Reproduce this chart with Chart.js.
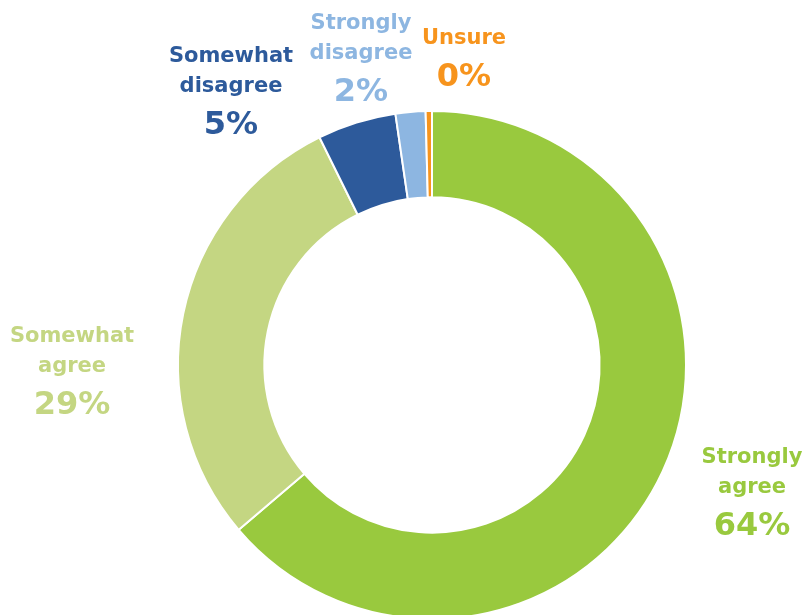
<!DOCTYPE html>
<html>
<head>
<meta charset="utf-8">
<script src="https://cdn.jsdelivr.net/npm/chart.js@4"></script>
<style>
  html, body { margin: 0; padding: 0; background: #ffffff; overflow: hidden; }
  #wrap { position: relative; width: 803px; height: 615px; overflow: hidden; }
  #chart { display: block; }
</style>
</head>
<body>
<div id="wrap"><canvas id="chart" width="803" height="632"></canvas></div>
<script>
const categories = ["Strongly agree", "Somewhat agree", "Somewhat disagree", "Strongly disagree", "Unsure"];
const values = [63.7, 28.9, 5.0, 1.9, 0.4];
const colors = ["#99C93E", "#C4D682", "#2D5A9B", "#8DB6E1", "#F7941D"];

// where each label block sits (centre x, first line y)
const labelPos = [
    { x: 752, y: 458 },
    { x: 72, y: 337 },
    { x: 231, y: 57 },
    { x: 361, y: 24 },
    { x: 464, y: 39 }
];

const labelFont = '"DejaVu Sans", sans-serif';

const labelPlugin = {
    id: "sliceLabels",
    afterDraw(chart) {
        const ctx = chart.ctx;
        const data = chart.data.datasets[0].data;
        ctx.save();
        ctx.textAlign = "center";
        ctx.textBaseline = "middle";
        chart.data.labels.forEach((label, idx) => {
            const pos = labelPos[idx];
            const words = label.split(" ");
            ctx.fillStyle = colors[idx];
            let y = pos.y;
            words.forEach((w) => {
                ctx.font = "bold 21px " + labelFont;
                ctx.fillText(w, pos.x, y);
                y += 30;
            });
            y += 9;
            ctx.font = "bold 32px " + labelFont;
            ctx.fillText(Math.round(data[idx]) + "%", pos.x, y);
        });
        ctx.restore();
    }
};

new Chart(document.getElementById("chart"), {
    type: "doughnut",
    data: {
        labels: categories,
        datasets: [{
            data: values,
            backgroundColor: colors,
            borderColor: "#ffffff",
            borderWidth: 2,
            hoverOffset: 0
        }]
    },
    options: {
        responsive: false,
        animation: false,
        cutout: "66%",
        layout: {
            padding: { top: 110, bottom: 12, left: 177, right: 116 }
        },
        plugins: {
            legend: { display: false },
            tooltip: { enabled: false }
        }
    },
    plugins: [labelPlugin]
});
</script>
</body>
</html>
